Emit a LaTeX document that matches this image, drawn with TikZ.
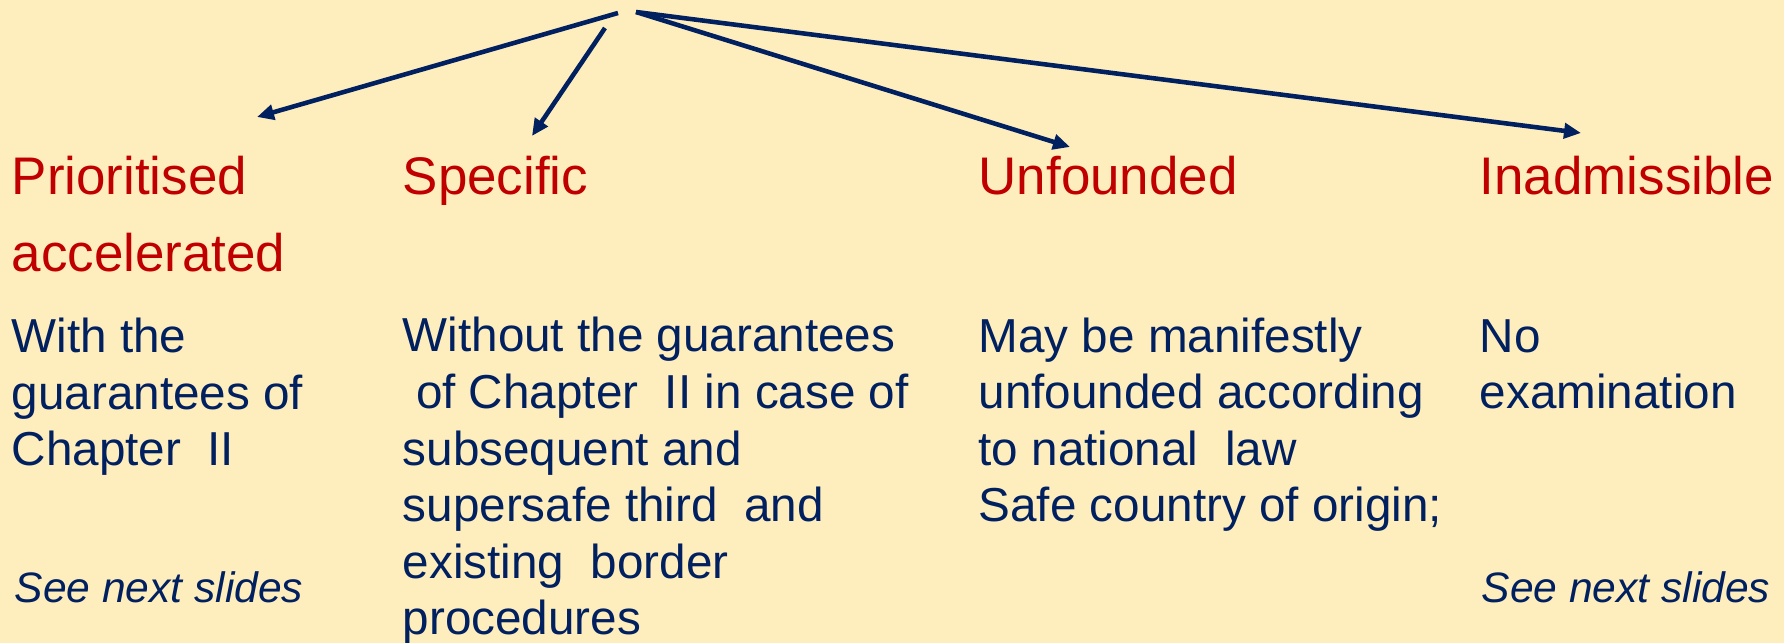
\documentclass[tikz,border=0pt]{standalone}
\usepackage{fontspec}
\setmainfont{Liberation Sans}
\usetikzlibrary{arrows.meta}
\definecolor{bgc}{RGB}{255,238,189}
\definecolor{navy}{RGB}{0,32,96}
\definecolor{headred}{RGB}{192,0,0}
\begin{document}
\begin{tikzpicture}[x=0.01cm,y=-0.01cm,
  head/.style={anchor=base west,inner sep=0pt,align=left,text=headred,font=\fontsize{15.05pt}{21.9pt}\selectfont},
  body/.style={anchor=base west,inner sep=0pt,align=left,text=navy,font=\fontsize{13.55pt}{16.1pt}\selectfont},
  note/.style={anchor=base west,inner sep=0pt,text=navy,font=\fontsize{12.1pt}{16.1pt}\selectfont\itshape},
  link/.style={draw=navy,line width=1.3pt,-{Triangle[length=0.17cm,width=0.15cm]}}]
\fill[bgc] (0,0) rectangle (1784,643);
\useasboundingbox (0,0) rectangle (1784,643);
% headings (anchor = baseline of last line)
\node[head] (h1) at (11,272) {Prioritised\\accelerated};
\node[head] (h2) at (402,195) {Specific};
\node[head] (h3) at (978,195) {Unfounded};
\node[head] (h4) at (1479,195) {Inadmissible};
% bodies (anchor = baseline of last line)
\node[body] (b1) at (11,466) {With the\\guarantees of\\Chapter\ \ II};
\node[body] (b2) at (402,635) {Without the guarantees\\\hspace*{0.28em}of Chapter\ \ II in case of\\subsequent and\\supersafe third\ \ and\\existing\ \ border\\procedures};
\node[body] (b3) at (978,522) {May be manifestly\\unfounded according\\to national\ \ law\\Safe country of origin;};
\node[body] (b4) at (1479,409) {No\\examination};
\node[note] (n1) at (14,603) {See next slides};
\node[note] (n4) at (1481,603) {See next slides};
% arrows
\coordinate (s1) at (618,13);
\coordinate (s2) at (605,28);
\coordinate (s3) at (636,12);
\coordinate (t1) at (257,117);
\coordinate (t2) at (532,136);
\coordinate (t3) at (1070,147);
\coordinate (t4) at (1581,133);
\draw[link] (s1) -- (t1);
\draw[link] (s2) -- (t2);
\draw[link] (s3) -- (t3);
\draw[link] (s3) -- (t4);
\end{tikzpicture}
\end{document}
